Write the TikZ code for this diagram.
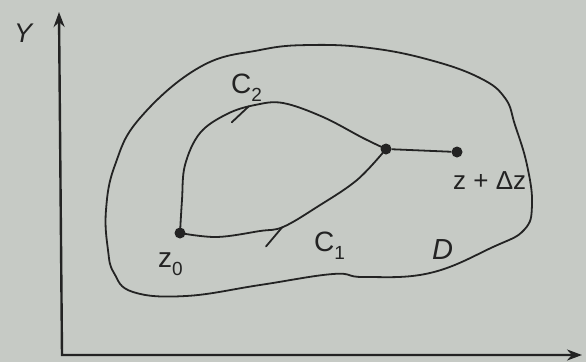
\documentclass[tikz,border=0pt]{standalone}
\usepackage{fontspec}
\setmainfont{Liberation Sans}
\usetikzlibrary{arrows.meta,decorations.markings}
\definecolor{paper}{RGB}{198,202,197}
\definecolor{ink}{RGB}{35,35,35}
\newcommand\lsub[1]{\raisebox{-0.3em}{\fontsize{19}{19}\selectfont #1}}
\begin{document}
\begin{tikzpicture}[x=1pt,y=-1pt,
  axisline/.style={draw=ink, line width=2.4pt, line join=miter,
    {Stealth[length=15pt,width=11pt]}-{Stealth[length=15pt,width=11pt]}},
  curve/.style={draw=ink, line width=1.8pt},
  barb/.style={draw=ink, line width=1.8pt, line cap=round},
  dot/.style={circle, fill=ink, inner sep=0pt, minimum size=11pt},
  lbl/.style={text=ink, font=\fontsize{28}{28}\selectfont, inner sep=0pt, anchor=base west},
  tipmark/.style 2 args={postaction={decorate}, decoration={markings,
    mark=at position #1 with {\coordinate (#2);}}}]
\fill[paper] (0,0) rectangle (586,362);
\useasboundingbox (0,0) rectangle (586,362);
% axes
\coordinate (O) at (62,355);
\coordinate (ytip) at (59,12);
\coordinate (xtip) at (582,355);
\draw[axisline] (ytip) -- (O) -- (xtip);
% region D
\draw[curve] plot[smooth cycle, tension=0.7] coordinates {
  (108,250) (106,210) (115,165) (140,118) (200,67) (260,50) (310,45) (370,48)
  (430,60) (480,78) (505,98) (515,125) (527,165) (532,205) (524,230) (493,247)
  (430,273) (364,277) (333,274) (260,285) (186,296) (133,292) (114,273)};
% points
\node[dot] (z0) at (180,233) {};
\node[dot] (p) at (386,149) {};
\node[dot] (q) at (457,152) {};
% curves
\draw[curve, tipmark={0.44}{t1}] plot[smooth, tension=0.6] coordinates {
  (z0.center) (217,237) (260,231) (283,227) (317,207) (357,180) (p.center)};
\draw[curve, tipmark={0.52}{t2}] plot[smooth, tension=0.6] coordinates {
  (z0.center) (182,200) (185,165) (200,133) (227,114) (255,105) (283,103)
  (323,117) (363,138) (p.center)};
\draw[curve] (p) -- (q);
% harpoon barbs
\draw[barb] (t1) -- ++(-16,19);
\draw[barb] (t2) -- ++(-17,16);
% labels
\node[lbl, font=\fontsize{27}{27}\selectfont\itshape] (ylab) at (14,42) {Y};
\node[lbl] (c2) at (231,93) {C\lsub{2}};
\node[lbl] (c1) at (314,251) {C\lsub{1}};
\node[lbl] (z0lab) at (158,267) {z\lsub{0}};
\node[lbl, font=\fontsize{26}{26}\selectfont] (qlab) at (453,189) {z + Δz};
\node[lbl, font=\fontsize{29}{29}\selectfont\itshape] (dlab) at (432,259) {D};
\end{tikzpicture}
\end{document}
